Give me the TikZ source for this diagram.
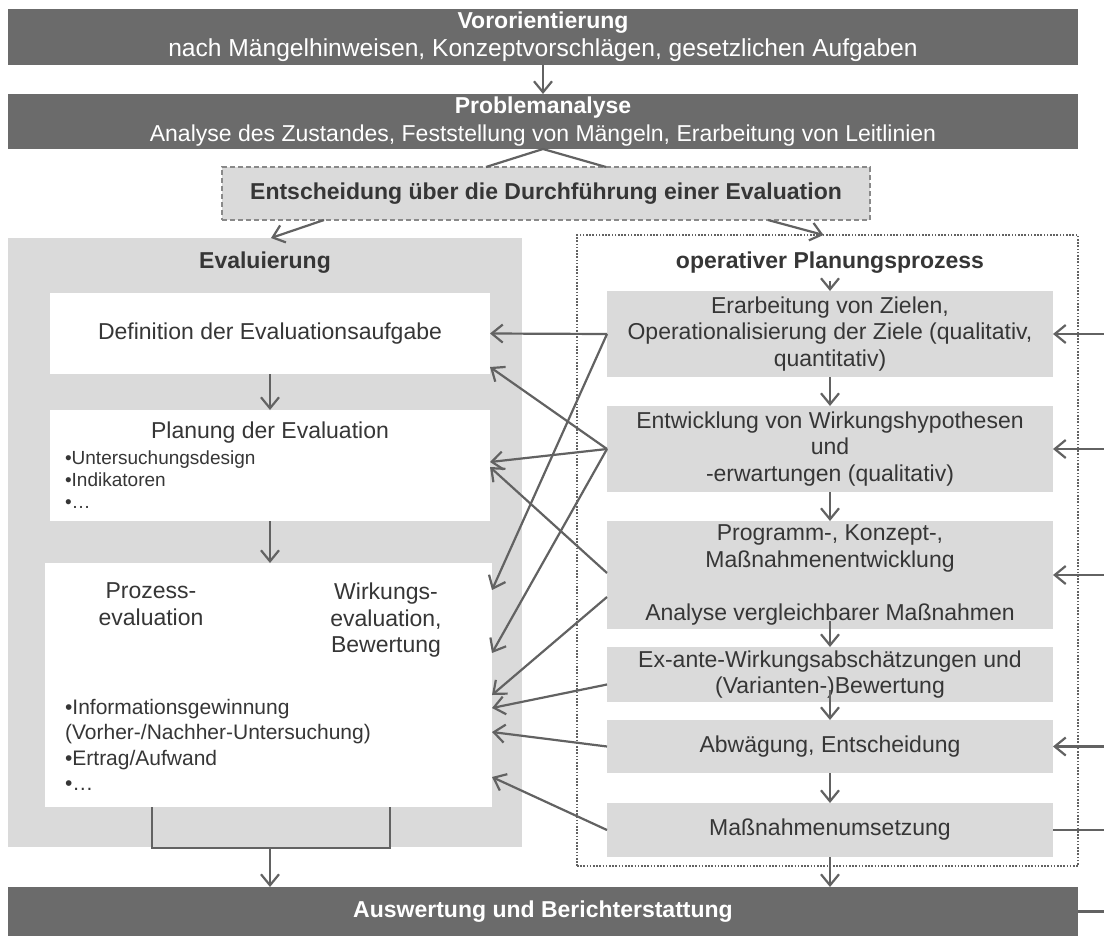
\documentclass[tikz,border=0pt]{standalone}
\usepackage{fontspec}
\setmainfont{Liberation Sans}
\usetikzlibrary{arrows.meta}
\definecolor{barc}{HTML}{6B6B6B}
\definecolor{lgray}{HTML}{DADADA}
\definecolor{lnc}{HTML}{626262}
\definecolor{txt}{HTML}{363636}
\begin{document}
\begin{tikzpicture}[x=0.5pt,y=-0.5pt,
  every node/.style={font=\fontsize{11.5}{13.3}\selectfont, text=txt},
  bx/.style={inner sep=0pt, outer sep=0pt},
  darkbar/.style={bx, fill=barc, text=white, align=center, minimum width=535pt, font=\fontsize{11.5}{13.8}\selectfont},
  rbox/.style={bx, fill=lgray, align=center},
  rb/.style={rbox, minimum width=223pt},
  wbox/.style={bx, fill=white, align=center},
  small/.style={font=\fontsize{9.5}{11}\selectfont},
  lnk/.style={draw=lnc, line width=1.1pt},
  arr/.style={lnk, -{Straight Barb[length=5.5pt,width=9pt,line width=1.1pt]}},
]
\useasboundingbox (0,0) rectangle (1104,938);
\fill[white] (0,0) rectangle (1104,938);

% top bars
\node[darkbar, minimum height=28pt] (vor) at (543,37) {\textbf{Vororientierung}\\{\fontsize{12.3}{13.8}\selectfont nach Mängelhinweisen, Konzeptvorschlägen, gesetzlichen Aufgaben}};
\node[darkbar, minimum height=27.5pt] (prob) at (543,121.5) {\textbf{Problemanalyse}\\Analyse des Zustandes, Feststellung von Mängeln, Erarbeitung von Leitlinien};
\node[rbox, minimum width=324pt, minimum height=26.5pt, draw=lnc!75, line width=1pt, dash pattern=on 2.5pt off 1.5pt] (ent) at (546,193.5) {\textbf{Entscheidung über die Durchführung einer Evaluation}};

% containers
\node[bx, fill=lgray, minimum width=257pt, minimum height=304.5pt] (evalbox) at (265,542.5) {};
\node[bx, draw=lnc, line width=1pt, dash pattern=on 0.8pt off 0.8pt, minimum width=250.5pt, minimum height=315.5pt] (opbox) at (827.5,550.5) {};
\node (evtitle) at (265,263) {\textbf{Evaluierung}};
\node (optitle) at (830,263) {\textbf{operativer Planungsprozess}};

% left boxes
\node[wbox, minimum width=220pt, minimum height=40.5pt] (def) at (270,333.5) {Definition der Evaluationsaufgabe};
\node[wbox, minimum width=220pt, minimum height=55.5pt] (plan) at (270,465.5) {};
\node (plant) at (270,433) {Planung der Evaluation};
\node[small, anchor=west, align=left] (planb) at (58,480) {•Untersuchungsdesign\\•Indikatoren\\•…};
\node[wbox, minimum width=223.5pt, minimum height=122pt] (proc) at (268.5,685) {};
\node[align=center, anchor=north] (prz) at (151,576) {Prozess-\\evaluation};
\node[align=center, anchor=north] (wrk) at (386,576) {Wirkungs-\\evaluation,\\Bewertung};
\node[align=left, anchor=west, font=\fontsize{10.5}{12.7}\selectfont] (procb) at (58,745) {•Informationsgewinnung\\(Vorher-/Nachher-Untersuchung)\\•Ertrag/Aufwand\\•…};

% right boxes
\node[rb, minimum height=43pt] (R1) at (830,334) {Erarbeitung von Zielen,\\Operationalisierung der Ziele (qualitativ,\\quantitativ)};
\node[rb, minimum height=43pt] (R2) at (830,449) {Entwicklung von Wirkungshypothesen\\und\\-erwartungen (qualitativ)};
\node[rb, minimum height=54pt] (R3) at (830,575) {Programm-, Konzept-,\\Maßnahmenentwicklung\\[13.3pt]Analyse vergleichbarer Maßnahmen};
\node[rb, minimum height=27.5pt] (R4) at (830,674.5) {Ex-ante-Wirkungsabschätzungen und\\(Varianten-)Bewertung};
\node[rb, minimum height=26.5pt] (R5) at (830,746.5) {Abwägung, Entscheidung};
\node[rb, minimum height=27pt] (R6) at (830,830) {Maßnahmenumsetzung};

% bottom bar
\node[darkbar, minimum height=24.5pt] (ausw) at (543,911.5) {\textbf{Auswertung und Berichterstattung}};

% top connectors
\draw[arr] (vor.south) -- (prob.north);
\draw[lnk] (prob.south) -- ([xshift=-30pt]ent.north);
\draw[lnk] (prob.south) -- ([xshift=30pt]ent.north);
\draw[arr] ([xshift=-111pt]ent.south) -- ([xshift=3pt]evalbox.north);
\draw[arr] ([xshift=111pt]ent.south) -- ([xshift=-2pt]opbox.north);

% left chain
\draw[arr] (def.south) -- (plan.north);
\draw[arr] (plan.south) -- (plan.south |- proc.north);
\coordinate (bl) at (152,848);
\coordinate (br) at (390,848);
\coordinate (bm) at (270,848);
\draw[lnk] (proc.south -| bl) -- (bl) -- (br) -- (proc.south -| br);
\draw[arr] (bm) -- (bm |- ausw.north);

% right chain
\draw[arr] (optitle.south) -- (R1.north);
\draw[arr] (R1.south) -- (R2.north);
\draw[arr] (R2.south) -- (R3.north);
\draw[arr] ([yshift=4pt]R3.south) -- (R4.north);
\draw[arr] ([yshift=6pt]R4.south) -- (R5.north);
\draw[arr] (R5.south) -- (R6.north);
\draw[arr] (R6.south) -- (R6.south |- ausw.north);

% crossing connectors
\draw[arr] (R1.west) -- (def.east);
\draw[arr] (R1.west) -- ([yshift=47.5pt]proc.east);
\draw[arr] (R2.west) -- ([yshift=-16.75pt]def.east);
\draw[arr] (R2.west) -- ([yshift=1.75pt]plan.east);
\draw[arr] (R2.west) -- ([yshift=16pt]proc.east);
\draw[arr] ([yshift=1pt]R3.west) -- ([yshift=-0.75pt]plan.east);
\draw[arr] ([yshift=-11pt]R3.west) -- ([yshift=-5pt]proc.east);
\draw[arr] ([yshift=-5pt]R4.west) -- ([yshift=-11.5pt]proc.east);
\draw[arr] (R5.west) -- ([yshift=-23.5pt]proc.east);
\draw[arr] (R6.west) -- ([yshift=-46pt]proc.east);

% feedback lines on the right
\coordinate (e1) at (1104,334);
\coordinate (e2) at (1104,449);
\coordinate (e3) at (1104,575);
\coordinate (e5) at (1104,746.5);
\coordinate (e6) at (1104,830);
\coordinate (e7) at (1104,911.5);
\draw[arr] (e1) -- (R1.east);
\draw[arr] (e2) -- (R2.east);
\draw[arr] (e3) -- (R3.east);
\draw[arr] (e5) -- (R5.east);
\draw[lnk] (R6.east) -- (e6);
\draw[lnk] (ausw.east) -- (e7);
\end{tikzpicture}
\end{document}
